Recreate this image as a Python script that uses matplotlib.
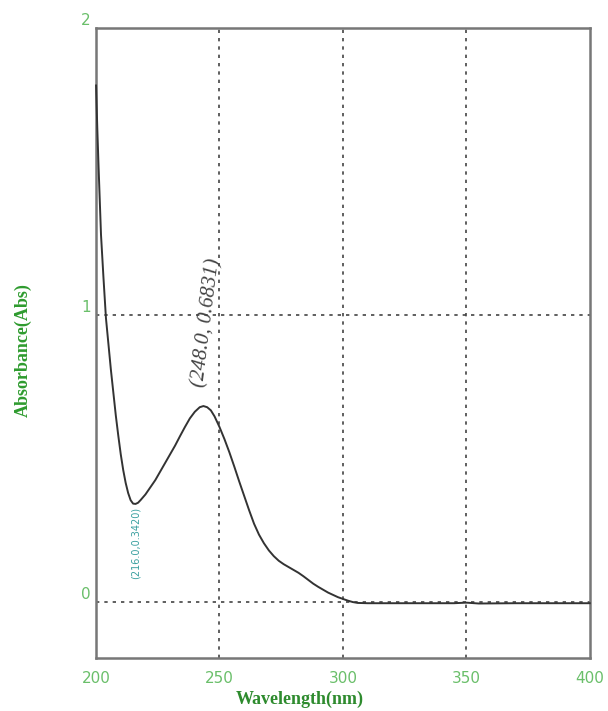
import numpy as np
import matplotlib
matplotlib.use('Agg')
from matplotlib import pyplot as plt

# spectrum
wavelength = [200, 200.5, 201, 202, 203, 204, 205, 206, 207, 208, 209, 210, 211, 212, 213,
              214, 215, 216, 217, 218, 220, 222, 224, 226, 228, 230, 232, 234, 236, 238,
              240, 242, 243.5, 245, 246.5, 248, 250, 252, 254, 256, 258, 260, 262, 264,
              266, 268, 270, 272, 274, 276, 278, 280, 282, 284, 286, 288, 290, 292, 294,
              296, 298, 300, 302, 304, 306, 310, 330, 345, 350, 355, 370, 400]
absorbance = [1.80, 1.65, 1.52, 1.28, 1.13, 0.99, 0.90, 0.81, 0.73, 0.65, 0.58, 0.515, 0.46, 0.415, 0.38,
              0.355, 0.343, 0.342, 0.346, 0.355, 0.375, 0.40, 0.425, 0.455, 0.485, 0.515, 0.545, 0.578, 0.61, 0.64,
              0.663, 0.679, 0.683, 0.679, 0.668, 0.647, 0.61, 0.568, 0.522, 0.472, 0.42, 0.37, 0.32, 0.273,
              0.235, 0.205, 0.18, 0.16, 0.144, 0.132, 0.122, 0.112, 0.102, 0.09, 0.077, 0.064, 0.053, 0.043, 0.033,
              0.025, 0.017, 0.011, 0.005, 0.0, -0.003, -0.004, -0.004, -0.004, -0.002, -0.005, -0.004, -0.004]

xticks = [200, 250, 300, 350, 400]
yticks = [0, 1, 2]
peak_label = '(248.0, 0.6831)'
valley_label = '(216.0,0.3420)'

fig = plt.figure(figsize=(6.08, 7.11), dpi=100)
ax = fig.add_axes([0.158, 0.0745, 0.812, 0.886])

ax.plot(wavelength, absorbance, color='#333333', lw=1.4, zorder=3, clip_on=False)

ax.set_xlim(200, 400)
ax.set_ylim(-0.195, 2)

for x in [250, 300, 350]:
    ax.axvline(x, color='#444444', lw=1.2, ls=(0, (2, 3)), zorder=0)
for y in [0, 1]:
    ax.axhline(y, color='#444444', lw=1.2, ls=(0, (2, 3)), zorder=0)

ax.set_xticks(xticks)
ax.set_yticks(yticks)
ax.tick_params(length=0, labelcolor='#6abf6a', labelsize=11)
ax.tick_params(axis='x', pad=9)
ax.tick_params(axis='y', pad=4)
for lab in ax.get_yticklabels():
    lab.set_va('bottom')

for s in ax.spines.values():
    s.set_color('#777777')
    s.set_linewidth(1.8)

ax.text(244.8, 0.975, peak_label, rotation=83, fontsize=15, style='italic',
        family='Liberation Serif', color='#444444', ha='center', va='center',
        rotation_mode='anchor')
ax.text(216.0, 0.205, valley_label, rotation=90, fontsize=7,
        color='#3aa0a0', ha='center', va='center')

fig.text(0.493, 0.017, 'Wavelength(nm)', fontsize=13, fontweight='bold',
         family='Liberation Serif', color='#2e8b2e', ha='center', va='center')
fig.text(0.038, 0.508, 'Absorbance(Abs)', fontsize=13, fontweight='bold',
         family='Liberation Serif', color='#2e9b2e', ha='center', va='center',
         rotation=90)

fig.savefig('out.png', dpi=100)
